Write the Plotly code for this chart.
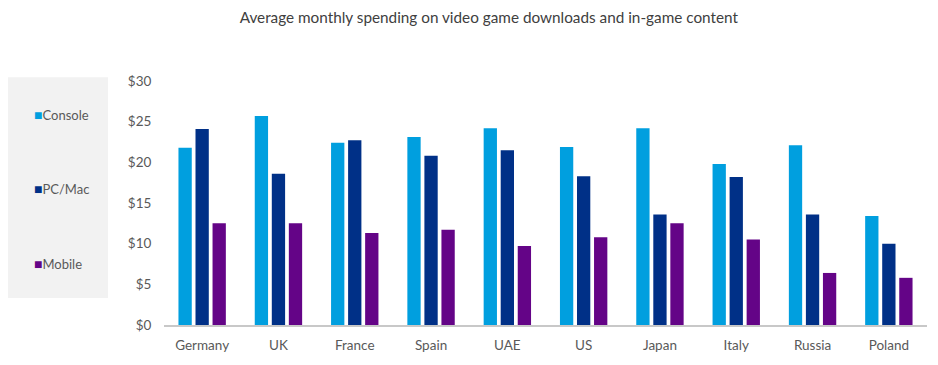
import plotly.graph_objects as go

countries = ["Germany", "UK", "France", "Spain", "UAE", "US", "Japan", "Italy", "Russia", "Poland"]
console = [21.8, 25.7, 22.4, 23.1, 24.2, 21.9, 24.2, 19.8, 22.1, 13.4]
pc_mac = [24.1, 18.6, 22.7, 20.8, 21.5, 18.3, 13.6, 18.2, 13.6, 10.0]
mobile = [12.5, 12.5, 11.3, 11.7, 9.7, 10.8, 12.5, 10.5, 6.4, 5.8]
series_names = ["Console", "PC/Mac", "Mobile"]
colors = ["#009FDF", "#003087", "#640487"]
tick_vals = [0, 5, 10, 15, 20, 25, 30]
tick_text = ["$0", "$5", "$10", "$15", "$20", "$25", "$30"]
title = "Average monthly spending on video game downloads and in-game content"

FONT = "Lato, 'Open Sans', sans-serif"
GREY = "#595959"

fig = go.Figure()
for i, (name, vals) in enumerate(zip(series_names, [console, pc_mac, mobile])):
    fig.add_trace(go.Bar(
        x=countries, y=vals, name=name, showlegend=False,
        marker=dict(color=colors[i], line=dict(width=0)),
    ))

# legend drawn as annotations inside grey panel
legend_y = [0.862, 0.559, 0.252]
annotations = []
for name, col, yy in zip(series_names, colors, legend_y):
    annotations.append(dict(
        xref="paper", yref="paper", x=-0.1735, y=yy, xanchor="left", yanchor="middle",
        showarrow=False,
        text=f"<span style='color:{col};font-size:14px'>■</span>{name}",
        font=dict(family=FONT, size=13, color=GREY),
    ))

fig.update_layout(
    width=930, height=357,
    margin=dict(l=156, r=11, t=73, b=40, autoexpand=False),
    paper_bgcolor="white", plot_bgcolor="white",
    barmode="group", bargap=0.33, bargroupgap=0.22,
    font=dict(family=FONT, size=13, color=GREY),
    title=dict(text=title, x=0.517, xref="container", xanchor="center", y=0.972, yanchor="middle",
               font=dict(family=FONT, size=15.3, color="#404040")),
    showlegend=False,
    annotations=annotations,
    shapes=[dict(type="rect", xref="paper", yref="paper",
                 x0=-0.2084, x1=-0.0734, y0=0.1105, y1=1.015,
                 fillcolor="#F2F2F2", line=dict(width=0), layer="below")],
)
fig.update_xaxes(showline=True, linecolor="#C8C8C8", linewidth=2, showgrid=False,
                 ticks="outside", ticklen=7, tickcolor="rgba(0,0,0,0)",
                 automargin=False, tickfont=dict(family=FONT, size=13.5, color=GREY))
fig.update_yaxes(range=[0, 30], tickvals=tick_vals, ticktext=tick_text, showgrid=False,
                 zeroline=False, showline=False, ticks="outside", ticklen=9, tickcolor="rgba(0,0,0,0)",
                 automargin=False, tickfont=dict(family=FONT, size=13.5, color=GREY))

fig.write_html("out.html")
